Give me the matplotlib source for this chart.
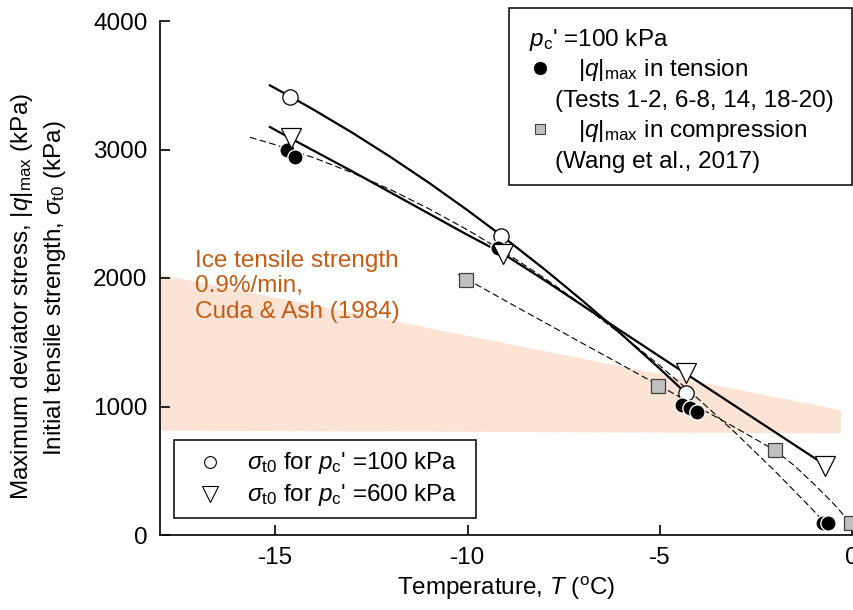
import matplotlib
matplotlib.use("Agg")
import matplotlib.pyplot as plt
from matplotlib.patches import Rectangle
from matplotlib.lines import Line2D

plt.rcParams['font.family'] = ['Liberation Sans', 'DejaVu Sans']
plt.rcParams['mathtext.fontset'] = 'custom'
plt.rcParams['mathtext.rm'] = 'Liberation Sans'
plt.rcParams['mathtext.it'] = 'Liberation Sans:italic'
plt.rcParams['mathtext.bf'] = 'Liberation Sans:bold'

# === DATA
# sigma_t0 for pc' = 100 kPa (open circles)
sig100_T = [-14.62, -9.13, -4.32]
sig100_v = [3410, 2330, 1108]
# sigma_t0 for pc' = 600 kPa (triangles)
sig600_T = [-14.59, -9.08, -4.32, -0.70]
sig600_v = [3090, 2190, 1260, 540]
# |q|max in tension (black circles)
tens_T = [-14.70, -14.49, -9.21, -4.42, -4.22, -4.03, -0.75, -0.62]
tens_v = [2994, 2939, 2232, 1011, 985, 956, 93, 93]
# |q|max in compression, Wang et al. 2017 (grey squares)
comp_T = [-10.04, -5.05, -2.00, -0.03]
comp_v = [1986, 1162, 661, 93]

# trend curves (traced)
fit100_T = [-15.14, -14.62, -14, -13, -12, -11, -10, -9.13, -8, -7, -6, -5, -4.32]
fit100_v = [3499, 3414, 3309, 3131, 2941, 2740, 2527, 2333, 2068, 1821, 1563, 1294, 1104]
fit600_T = [-15.14, -14.59, -13, -11, -10, -9.08, -8, -6, -4.32, -2.5, -0.70]
fit600_v = [3175, 3085, 2830, 2500, 2335, 2190, 1983, 1586, 1255, 898, 545]
fittens_T = [-15.66, -15, -14, -13, -12, -11, -10, -9, -8, -7, -6, -5, -4, -3, -2, -1, -0.7]
fittens_v = [3095, 3037, 2936, 2819, 2687, 2538, 2374, 2195, 1999, 1788, 1561, 1318,
             1060, 786, 496, 190, 93]
fitcomp_T = [-10.25, -9, -8, -7, -6, -5, -4, -3, -2, -1.5, -1, -0.5, -0.03]
fitcomp_v = [2030, 1820, 1655, 1490, 1326, 1160, 995, 830, 658, 540, 400, 250, 93]

# ice tensile strength band (Cuda & Ash 1984)
band_T = [-18.0, -0.3]
band_hi = [2030, 975]
band_lo = [816, 795]

W, H = 854, 610
fig = plt.figure(figsize=(W / 100, H / 100), dpi=100)
ax = fig.add_axes([160 / W, 1 - 535 / H, 692 / W, 514 / H])

FS = 17.5
ORANGE = '#C55A11'
DASH = (0, (6, 3))

ax.fill_between(band_T, band_lo, band_hi, color='#FBE4D5', lw=0, zorder=0)

ax.plot(fit100_T, fit100_v, color='black', lw=1.6, zorder=2)
ax.plot(fit600_T, fit600_v, color='black', lw=1.6, zorder=2)
ax.plot(fittens_T, fittens_v, color='black', lw=0.8, ls=DASH, zorder=2)
ax.plot(fitcomp_T, fitcomp_v, color='black', lw=0.8, ls=DASH, zorder=2)

ax.plot(sig100_T, sig100_v, 'o', ms=11, mfc='white', mec='black', mew=0.9, zorder=3)
ax.plot(tens_T, tens_v, 'o', ms=11, mfc='black', mec='white', mew=1.0, zorder=4)
ax.plot(sig600_T, sig600_v, 'v', ms=15, mfc='white', mec='black', mew=0.9, zorder=5)
ax.plot(comp_T, comp_v, 's', ms=10, mfc='#C0C0C0', mec='#404040', mew=0.9, zorder=5,
        clip_on=False)

ax.set_xlim(-18, 0)
ax.set_ylim(0, 4000)
ax.set_xticks([-15, -10, -5, 0])
ax.set_xticklabels(['-15', '-10', '-5', '0'])
ax.set_yticks([0, 1000, 2000, 3000, 4000])
for s in ['top', 'right']:
    ax.spines[s].set_visible(False)
for s in ['left', 'bottom']:
    ax.spines[s].set_linewidth(1.2)
ax.tick_params(direction='in', length=7, width=1.2, labelsize=FS, pad=9)

ax.set_xlabel(r'Temperature, $T$ ($^{\mathrm{o}}$C)', fontsize=FS, labelpad=4)
fig.text(22 / W, 1 - 296 / H, r'Maximum deviator stress, $|q|_{\mathrm{max}}$ (kPa)',
         rotation=90, fontsize=FS, ha='center', va='center')
fig.text(55 / W, 1 - 288 / H, r'Initial tensile strength, $\sigma_{\mathrm{t0}}$ (kPa)',
         rotation=90, fontsize=FS, ha='center', va='center')

ax.text(195 / W, 1 - 250 / H, 'Ice tensile strength\n0.9%/min,\nCuda & Ash (1984)',
        transform=fig.transFigure, color=ORANGE, fontsize=FS, va='top', ha='left',
        linespacing=1.2)


def px(x, y):
    return x / W, 1 - y / H


def marker(x, y, **kw):
    fx, fy = px(x, y)
    fig.add_artist(Line2D([fx], [fy], transform=fig.transFigure, ls='none',
                          zorder=12, **kw))


# legend box 1 (upper right)
fig.add_artist(Rectangle(px(509, 185), 343 / W, 177 / H, transform=fig.transFigure,
                         fc='white', ec='black', lw=1.1, zorder=10))
t_kw = dict(fontsize=FS, va='center', ha='left', zorder=11)
fig.text(*px(529, 40), r"$p_{\mathrm{c}}$' =100 kPa", **t_kw)
marker(540, 68, marker='o', ms=9, mfc='black', mec='black', mew=0.5)
fig.text(*px(578, 70), r'$|q|_{\mathrm{max}}$ in tension', **t_kw)
fig.text(*px(555, 101), '(Tests 1-2, 6-8, 14, 18-20)', **t_kw)
marker(540, 129, marker='s', ms=7.5, mfc='#C0C0C0', mec='#404040', mew=0.8)
fig.text(*px(578, 131), r'$|q|_{\mathrm{max}}$ in compression', **t_kw)
fig.text(*px(555, 162), '(Wang et al., 2017)', **t_kw)

# legend box 2 (lower left)
fig.add_artist(Rectangle(px(174, 518), 302 / W, 78 / H, transform=fig.transFigure,
                         fc='white', ec='black', lw=1.1, zorder=10))
marker(210, 462, marker='o', ms=8.5, mfc='white', mec='black', mew=0.8)
fig.text(*px(247, 463), r"$\sigma_{\mathrm{t0}}$ for $p_{\mathrm{c}}$' =100 kPa", **t_kw)
marker(210, 494, marker='v', ms=11.5, mfc='white', mec='black', mew=0.8)
fig.text(*px(247, 495), r"$\sigma_{\mathrm{t0}}$ for $p_{\mathrm{c}}$' =600 kPa", **t_kw)

fig.savefig('out.png', dpi=100)
